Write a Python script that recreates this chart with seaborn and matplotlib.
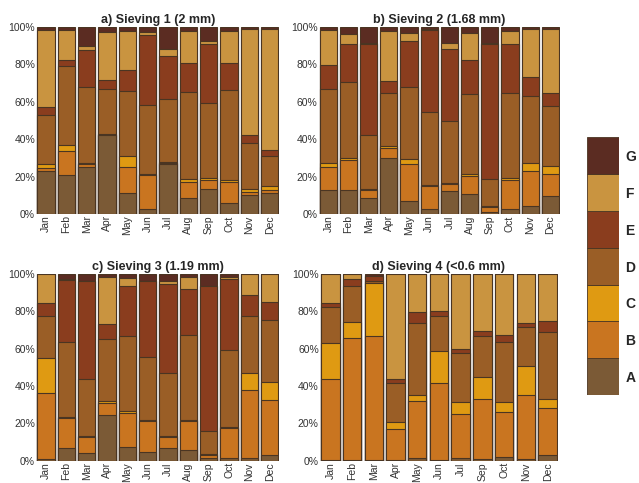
import matplotlib
matplotlib.use("Agg")
import matplotlib.pyplot as plt
import pandas as pd
import seaborn as sns

classes = ["A", "B", "C", "D", "E", "F", "G"]
colors = ["#7b5a36", "#c97520", "#df9a12", "#9a5e26", "#8a3d1e", "#c99440", "#5b2c22"]

months = ["Jan", "Feb", "Mar", "Apr", "May", "Jun", "Jul", "Aug", "Sep", "Oct", "Nov", "Dec"]
months_d = ["Jan", "Feb", "Mar", "Apr", "May", "Jun", "Jul", "Sep", "Oct", "Nov", "Dec"]

# cumulative top of each class (A..F), G always reaches 100 %
s1_cum = {
    "A": [23, 21, 25, 42, 11, 2.5, 27, 8.5, 13.5, 6, 10, 11],
    "B": [24.5, 33.5, 26.5, 42.5, 25, 21, 27.3, 17, 18, 17, 12, 13],
    "C": [26.5, 37, 27.5, 43, 31, 21.5, 27.6, 18.5, 19, 18, 13.5, 15],
    "D": [53, 79, 68, 67, 66, 58.5, 61.5, 65.5, 59.5, 66.5, 38, 31],
    "E": [57, 82.5, 87.5, 71.5, 77, 96, 84.5, 80.5, 91, 81, 42, 34],
    "F": [98.5, 98.5, 90, 97.5, 98, 97.5, 88, 98, 92.5, 98, 99, 99],
}
s2_cum = {
    "A": [13, 13, 8.5, 30, 7, 2.5, 12.5, 10.5, 1, 2.5, 4.5, 9.5],
    "B": [25, 29, 13, 35.5, 27, 15, 16, 20.5, 3.5, 18, 23, 21.5],
    "C": [27.5, 30, 13.5, 36.5, 29.5, 15.5, 16.5, 21.5, 4, 19, 27.5, 25.5],
    "D": [67, 70.5, 42.5, 64.5, 68, 54.5, 49.5, 64, 18.5, 64.5, 63, 58],
    "E": [79.5, 91, 91, 71, 92.5, 98.5, 88, 82.5, 91, 91, 73.5, 64.5],
    "F": [98.5, 96.5, 91.5, 98, 97, 99, 91.5, 97, 91.3, 98, 99, 99],
}
s3_cum = {
    "A": [1, 7, 4, 24.5, 7.5, 4.5, 7, 6, 1.5, 1.5, 1.5, 3],
    "B": [36.5, 23, 12.5, 31, 25.5, 21.5, 12.5, 21.5, 3, 17.5, 38, 32.5],
    "C": [55, 23.5, 13, 32, 26.5, 22, 13, 22, 3.5, 18, 47, 42],
    "D": [77.5, 63.5, 43.5, 65, 67, 55.5, 47, 67.5, 16, 59.5, 77.5, 75.5],
    "E": [84.5, 96.5, 96, 73, 93.5, 96, 94.5, 92, 93.5, 97.5, 88.5, 85],
    "F": [100, 97.5, 96, 98.5, 98, 96, 96, 98.5, 93.5, 98.5, 100, 100],
}
s4_cum = {
    "A": [0.5, 0.5, 0.5, 0.5, 1.5, 0.5, 1.5, 1, 2, 1, 3],
    "B": [43.5, 65.5, 67, 17, 32, 41.5, 25, 33, 26, 35, 28],
    "C": [63, 74, 95, 20.5, 35, 58.5, 31.5, 45, 31.5, 50.5, 33],
    "D": [82.5, 93.5, 96, 41.5, 73.5, 77.5, 57.5, 66.5, 63.5, 71.5, 69],
    "E": [84.5, 97.5, 99, 43.5, 79.5, 80, 60, 69.5, 67.5, 73.5, 75],
    "F": [100, 100, 99, 100, 100, 100, 100, 100, 100, 100, 100],
}

titles = ["a) Sieving 1 (2 mm)", "b) Sieving 2 (1.68 mm)",
          "c) Sieving 3 (1.19 mm)", "d) Sieving 4 (<0.6 mm)"]
panels = [(s1_cum, months), (s2_cum, months), (s3_cum, months), (s4_cum, months_d)]
positions = [[0.057, 0.557, 0.380, 0.387], [0.499, 0.557, 0.377, 0.387],
             [0.057, 0.046, 0.380, 0.387], [0.501, 0.046, 0.372, 0.387]]

sns.set_theme(style="white")
plt.rcParams["font.family"] = ["Liberation Sans", "DejaVu Sans"]

fig = plt.figure(figsize=(6.39, 4.83), dpi=100)
edge = "#4a3522"

for (cum, mlist), title, pos in zip(panels, titles, positions):
    ax = fig.add_axes(pos)
    df = pd.DataFrame(cum)
    df["G"] = 100
    df["month"] = mlist
    # draw from the top class down so lower layers cover the upper ones
    for cls, col in reversed(list(zip(classes, colors))):
        sns.barplot(data=df, x="month", y=cls, order=mlist, color=col,
                    saturation=1, width=0.85, edgecolor=edge, linewidth=0.8, ax=ax)
    ax.set_xlim(-0.47, len(mlist) - 0.53)
    ax.set_ylim(0, 100)
    ax.set_yticks([0, 20, 40, 60, 80, 100])
    ax.set_yticklabels([f"{v}%" for v in range(0, 101, 20)])
    ax.set_xlabel("")
    ax.set_ylabel("")
    ax.tick_params(axis="x", rotation=90, labelsize=7.5, pad=1, length=0, colors="#333333")
    ax.tick_params(axis="y", labelsize=7.5, pad=1, length=0, colors="#333333")
    sns.despine(ax=ax, left=True, bottom=True)
    ax.set_title(title, fontsize=9, fontweight="bold", pad=3)

# legend drawn as a stacked column
lax = fig.add_axes([0.918, 0.182, 0.050, 0.534])
leg = pd.DataFrame({"cls": classes, "h": [1] * len(classes)})
for i, (cls, col) in enumerate(zip(classes, colors)):
    lax.bar(0, 1, bottom=i, width=1, color=col, edgecolor=edge, linewidth=0.6)
lax.set_xlim(-0.5, 0.5)
lax.set_ylim(0, len(classes))
lax.set_xticks([])
lax.yaxis.tick_right()
lax.set_yticks([i + 0.5 for i in range(len(classes))])
lax.set_yticklabels(leg["cls"], fontsize=10, fontweight="bold")
lax.tick_params(axis="y", length=0, pad=5)
for s in lax.spines.values():
    s.set_visible(False)

fig.savefig("out.png", dpi=100)
